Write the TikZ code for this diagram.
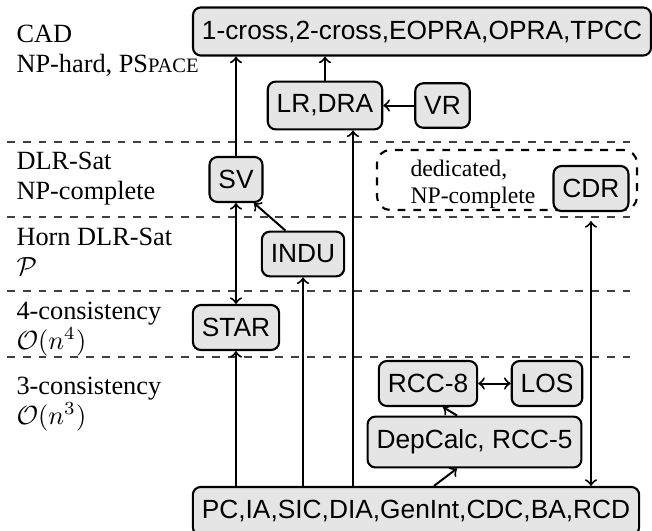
\documentclass[tikz,border=0pt]{standalone}
\usepackage{fontspec}
\setmainfont{Liberation Serif}
\setsansfont{Liberation Sans}
\usetikzlibrary{calc}
\tikzset{
  cnode/.style={draw, thick, rounded corners=3pt, fill=gray!20,
    inner xsep=3.4pt, inner ysep=5pt,
    font=\sffamily\fontsize{10pt}{12pt}\selectfont},
  tier/.style={anchor=north west, inner sep=0pt, align=left,
    font=\rmfamily\fontsize{10pt}{11.2pt}\selectfont},
  sep/.style={dashed, line width=0.5pt, black!75},
  link/.style={line width=0.76pt, ->},
  group/.style={draw, thick, dashed, rounded corners=5pt, inner sep=0pt},
}
\begin{document}
\begin{tikzpicture}[x=0.38pt, y=-0.38pt]
\useasboundingbox (0,0) rectangle (652,531);

% complexity tiers
\foreach \yy in {142,217,291,357} \draw[sep] (7,\yy) -- (630,\yy);

\node[tier] (t1) at (16,25) {CAD\\NP-hard, PS{\fontsize{7.8pt}{11.2pt}\selectfont PACE}};
\node[tier] (t2) at (16,152) {DLR-Sat\\NP-complete};
\node[tier] (t3) at (16,228) {Horn DLR-Sat\\$\mathcal{P}$};
\node[tier] (t4) at (16,302) {4-consistency\\$\mathcal{O}(n^4)$};
\node[tier] (t5) at (16,377) {3-consistency\\$\mathcal{O}(n^3)$};

% calculi
\node[cnode] (top) at (422,31.5) {1-cross,2-cross,EOPRA,OPRA,TPCC};
\node[cnode] (lr) at (325,105.5) {LR,DRA};
\node[cnode] (vr) at (442.5,105.5) {VR};
\node[cnode] (sv) at (236,179.5) {SV};
\node[cnode] (indu) at (303,254) {INDU};
\node[cnode] (star) at (236,327.5) {STAR};
\node[cnode] (rcc8) at (428,383.5) {RCC-8};
\node[cnode] (los) at (547,383.5) {LOS};
\node[cnode] (dep) at (474.5,442) {DepCalc, RCC-5};
\node[cnode] (base) at (416,511) {PC,IA,SIC,DIA,GenInt,CDC,BA,RCD};

% dedicated group
\node[group, minimum width=98.8pt, minimum height=22.8pt] (grp) at (507,180) {};
\node[tier, font=\rmfamily\fontsize{9pt}{9.9pt}\selectfont] (ded) at (410,160) {dedicated,\\NP-complete};
\node[cnode] (cdr) at (591,188.5) {CDR};

% reductions
\draw[link] (sv) -- (sv |- top.south);
\draw[link] (lr) -- (lr |- top.south);
\draw[link] (vr) -- (lr);
\coordinate (lane) at (353,0);
\draw[link] (lane |- base.north) -- (lane |- lr.south);
\draw[link] ($(indu.north)+(-17.5,0)$) -- ($(sv.south)+(18,0)$);
\draw[link, <->] (sv) -- (star);
\draw[link] (star |- base.north) -- (star);
\draw[link] (indu |- base.north) -- (indu);
\draw[link] ($(base.north)+(18,0)$) -- ($(dep.south)+(-17.5,0)$);
\draw[link] ($(dep.north)+(-17.5,0)$) -- ($(rcc8.south)+(15,0)$);
\draw[link, <->] (rcc8) -- (los);
\draw[link, <->] (cdr |- base.north) -- ($(cdr |- grp.south)+(0,10)$);
\end{tikzpicture}
\end{document}
